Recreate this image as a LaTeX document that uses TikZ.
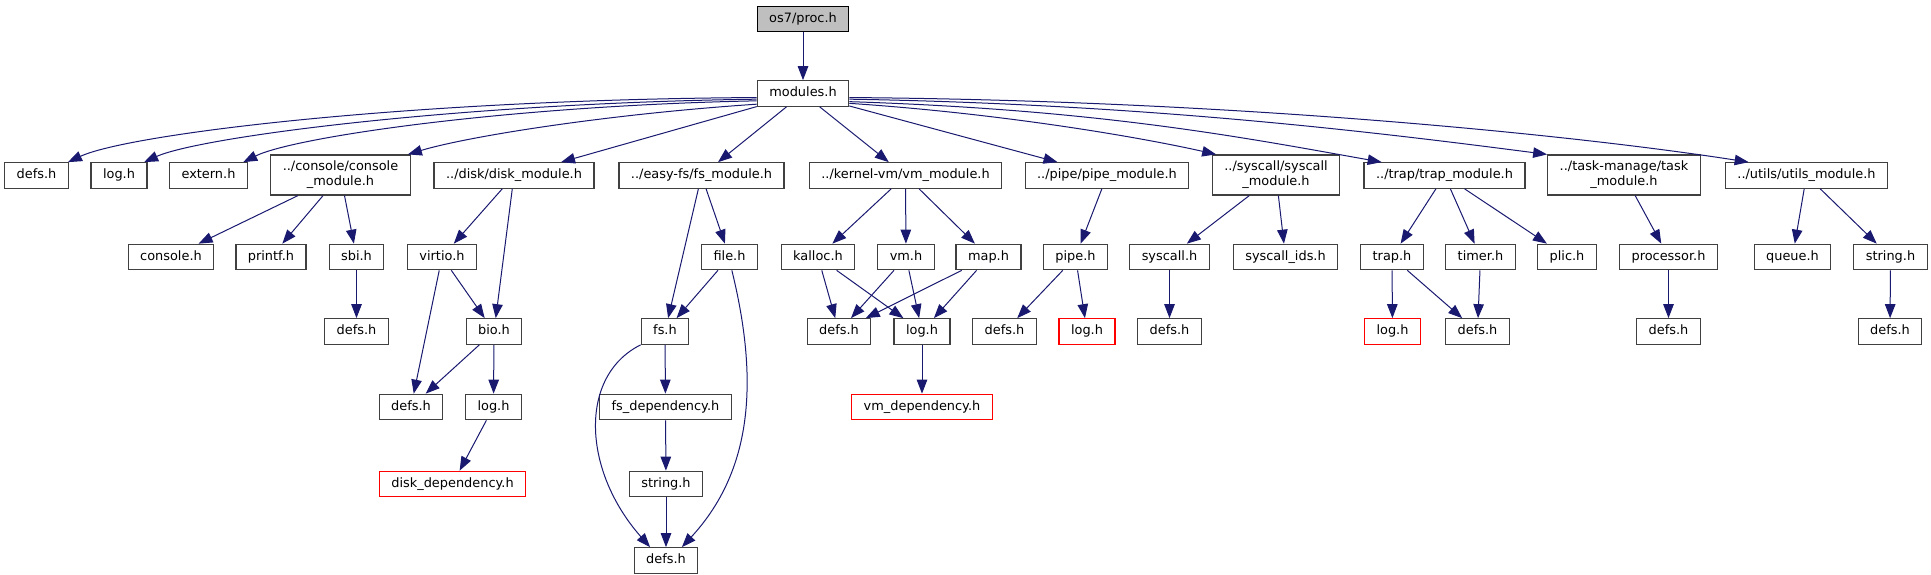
\documentclass[tikz,border=0pt]{standalone}
\usepackage{fontspec}
\setmainfont{DejaVu Sans}
\usetikzlibrary{arrows.meta}
\definecolor{edgeblue}{HTML}{191970}
\definecolor{boxgray}{HTML}{404040}
\definecolor{curgray}{HTML}{BFBFBF}
\tikzset{
  nbox/.style  = {draw=boxgray, fill=white, line width=1.2pt, inner xsep=12pt,
                  inner ysep=2pt, font=\fontsize{12.9}{15}\selectfont},
  hbox/.style  = {nbox, minimum height=25.5pt, text height=9.6pt, text depth=2.8pt},
  mbox/.style  = {nbox, minimum height=40pt, align=center},
  rbox/.style  = {hbox, draw=red},
  cbox/.style  = {hbox, draw=black, fill=curgray},
  inc/.style   = {draw=edgeblue, line width=1pt,
                  -{Triangle[length=14pt,width=10.5pt]}},
}
\begin{document}
\begin{tikzpicture}[x=1pt, y=-1pt]
  \useasboundingbox (0,0) rectangle (1931,575);
  \node[cbox] (proc) at (803,19) {os7/proc.h};
  \node[hbox] (mods) at (803,93.5) {modules.h};
  \node[hbox] (defsA) at (36.5,175.5) {defs.h};
  \node[hbox] (logA) at (119,175.5) {log.h};
  \node[hbox] (extA) at (208.5,175.5) {extern.h};
  \node[mbox] (consmod) at (340.5,175) {../console/console\\\_module.h};
  \node[hbox] (diskmod) at (514,175.5) {../disk/disk\_module.h};
  \node[hbox] (fsmod) at (701.5,175.5) {../easy-fs/fs\_module.h};
  \node[hbox] (vmmod) at (905.5,175.5) {../kernel-vm/vm\_module.h};
  \node[hbox] (pipemod) at (1107,175.5) {../pipe/pipe\_module.h};
  \node[mbox] (syscmod) at (1276,175) {../syscall/syscall\\\_module.h};
  \node[hbox] (trapmod) at (1444.5,175.5) {../trap/trap\_module.h};
  \node[mbox] (taskmod) at (1624,175) {../task-manage/task\\\_module.h};
  \node[hbox] (utilmod) at (1806.5,175.5) {../utils/utils\_module.h};
  \node[hbox] (consoleh) at (171,257) {console.h};
  \node[hbox] (printfh) at (271,257) {printf.h};
  \node[hbox] (sbih) at (356.5,257) {sbi.h};
  \node[hbox] (virtioh) at (442,257) {virtio.h};
  \node[hbox] (fileh) at (729.5,257) {file.h};
  \node[hbox] (kalloch) at (818,257) {kalloc.h};
  \node[hbox] (vmh) at (906,257) {vm.h};
  \node[hbox] (maph) at (988.5,257) {map.h};
  \node[hbox] (pipeh) at (1075.5,257) {pipe.h};
  \node[hbox] (syscallh) at (1169.5,257) {syscall.h};
  \node[hbox] (sysids) at (1285.5,257) {syscall\_ids.h};
  \node[hbox] (traph) at (1392,257) {trap.h};
  \node[hbox] (timerh) at (1480.5,257) {timer.h};
  \node[hbox] (plich) at (1567,257) {plic.h};
  \node[hbox] (procsr) at (1668.5,257) {processor.h};
  \node[hbox] (queueh) at (1792.5,257) {queue.h};
  \node[hbox] (strB) at (1890.5,257) {string.h};
  \node[hbox] (defsB) at (356.5,331.5) {defs.h};
  \node[hbox] (bioh) at (494,331.5) {bio.h};
  \node[hbox] (fsh) at (665,331.5) {fs.h};
  \node[hbox] (defsE) at (839,331.5) {defs.h};
  \node[hbox] (logE) at (922,331.5) {log.h};
  \node[hbox] (defsF) at (1004.5,331.5) {defs.h};
  \node[rbox] (logF) at (1087,331.5) {log.h};
  \node[hbox] (defsG) at (1169.5,331.5) {defs.h};
  \node[rbox] (logH) at (1392.5,331.5) {log.h};
  \node[hbox] (defsH) at (1477.5,331.5) {defs.h};
  \node[hbox] (defsI) at (1668.5,331.5) {defs.h};
  \node[hbox] (defsJ) at (1890,331.5) {defs.h};
  \node[hbox] (defsC) at (411,407) {defs.h};
  \node[hbox] (logC) at (493.5,407) {log.h};
  \node[hbox] (fsdep) at (665.5,407) {fs\_dependency.h};
  \node[rbox] (vmdep) at (922,407) {vm\_dependency.h};
  \node[rbox] (diskdep) at (452.5,484) {disk\_dependency.h};
  \node[hbox] (strA) at (666,484) {string.h};
  \node[hbox] (defsD) at (666,560.5) {defs.h};

  \draw[inc] (proc) -- (mods);
  \draw[inc] (mods.185) .. controls +(-350,2) and +(60,-28) .. (defsA.23);
  \draw[inc] (mods.187) .. controls +(-300,4) and +(55,-25) .. (logA.28);
  \draw[inc] (mods.189) .. controls +(-250,5) and +(50,-25) .. (extA.21);
  \draw[inc] (mods.193) .. controls +(-150,10) and +(60,-18) .. (consmod.17);
  \draw[inc] (mods) -- (diskmod);
  \draw[inc] (mods) -- (fsmod);
  \draw[inc] (mods) -- (vmmod);
  \draw[inc] (mods) -- (pipemod);
  \draw[inc] (mods.-12) .. controls +(150,10) and +(-80,-18) .. (syscmod.161);
  \draw[inc] (mods.-10) .. controls +(250,8) and +(-140,-25) .. (trapmod.168);
  \draw[inc] (mods.-7) .. controls +(300,5) and +(-170,-22) .. (taskmod.165);
  \draw[inc] (mods.-5) .. controls +(400,3) and +(-160,-25) .. (utilmod.167);

  \draw[inc] (consmod) -- (consoleh);
  \draw[inc] (consmod) -- (printfh);
  \draw[inc] (consmod) -- (sbih);
  \draw[inc] (sbih) -- (defsB);
  \draw[inc] (diskmod) -- (virtioh);
  \draw[inc] (diskmod) -- (bioh);
  \draw[inc] (virtioh) -- (bioh);
  \draw[inc] (virtioh) -- (defsC);
  \draw[inc] (bioh) -- (defsC);
  \draw[inc] (bioh) -- (logC);
  \draw[inc] (logC) -- (diskdep);

  \draw[inc] (fsmod) -- (fsh);
  \draw[inc] (fsmod) -- (fileh);
  \draw[inc] (fileh) -- (fsh);
  \draw[inc] (fileh.-80) .. controls +(27,110) and +(71,-77) .. (defsD.40);
  \draw[inc] (fsh.south west) .. controls +(-62,31) and +(-68,-77) .. (defsD.140);
  \draw[inc] (fsh) -- (fsdep);
  \draw[inc] (fsdep) -- (strA);
  \draw[inc] (strA) -- (defsD);

  \draw[inc] (vmmod) -- (kalloch);
  \draw[inc] (vmmod) -- (vmh);
  \draw[inc] (vmmod) -- (maph);
  \draw[inc] (kalloch) -- (defsE);
  \draw[inc] (kalloch) -- (logE);
  \draw[inc] (vmh) -- (defsE);
  \draw[inc] (vmh) -- (logE);
  \draw[inc] (maph) -- (defsE);
  \draw[inc] (maph) -- (logE);
  \draw[inc] (logE) -- (vmdep);

  \draw[inc] (pipemod) -- (pipeh);
  \draw[inc] (pipeh) -- (defsF);
  \draw[inc] (pipeh) -- (logF);
  \draw[inc] (syscmod) -- (syscallh);
  \draw[inc] (syscmod) -- (sysids);
  \draw[inc] (syscallh) -- (defsG);

  \draw[inc] (trapmod) -- (traph);
  \draw[inc] (trapmod) -- (timerh);
  \draw[inc] (trapmod) -- (plich);
  \draw[inc] (traph) -- (logH);
  \draw[inc] (traph) -- (defsH);
  \draw[inc] (timerh) -- (defsH);
  \draw[inc] (taskmod) -- (procsr);
  \draw[inc] (procsr) -- (defsI);
  \draw[inc] (utilmod) -- (queueh);
  \draw[inc] (utilmod) -- (strB);
  \draw[inc] (strB) -- (defsJ);
\end{tikzpicture}
\end{document}
